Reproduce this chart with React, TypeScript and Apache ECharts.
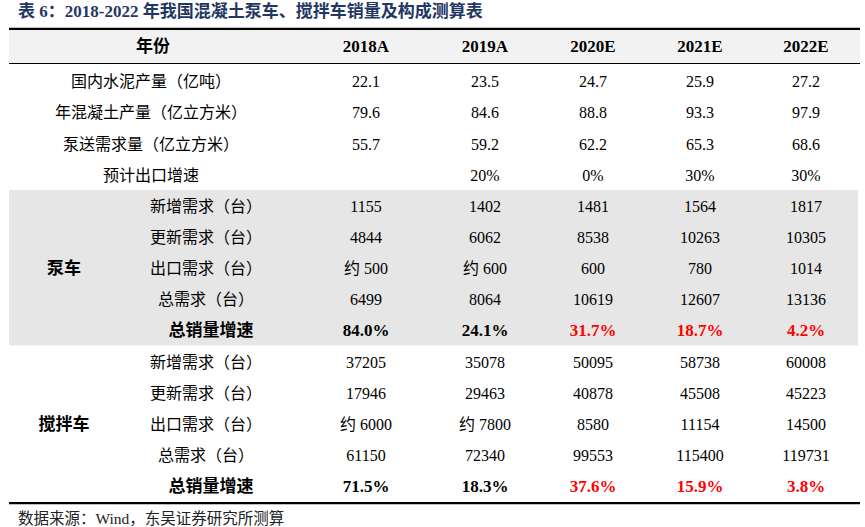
import React, { useEffect, useRef } from 'react';
import * as echarts from 'echarts';

// ---------------- data ----------------
const years = ['2018A', '2019A', '2020E', '2021E', '2022E'];
const cementOutput = [22.1, 23.5, 24.7, 25.9, 27.2];
const concreteOutput = [79.6, 84.6, 88.8, 93.3, 97.9];
const pumpingDemand = [55.7, 59.2, 62.2, 65.3, 68.6];
const exportGrowth = ['', '20%', '0%', '30%', '30%'];

const pumpNew = [1155, 1402, 1481, 1564, 1817];
const pumpRenew = [4844, 6062, 8538, 10263, 10305];
const pumpExport = ['约 500', '约 600', '600', '780', '1014'];
const pumpTotal = [6499, 8064, 10619, 12607, 13136];
const pumpGrowth = ['84.0%', '24.1%', '31.7%', '18.7%', '4.2%'];

const mixerNew = [37205, 35078, 50095, 58738, 60008];
const mixerRenew = [17946, 29463, 40878, 45508, 45223];
const mixerExport = ['约 6000', '约 7800', '8580', '11154', '14500'];
const mixerTotal = [61150, 72340, 99553, 115400, 119731];
const mixerGrowth = ['71.5%', '18.3%', '37.6%', '15.9%', '3.8%'];

const topLabels = ['国内水泥产量（亿吨）', '年混凝土产量（亿立方米）', '泵送需求量（亿立方米）', '预计出口增速'];
const subLabels = ['新增需求（台）', '更新需求（台）', '出口需求（台）', '总需求（台）', '总销量增速'];
const groupLabels = ['泵车', '搅拌车'];
const headerLabel = '年份';
const titleText = '表 6：2018-2022 年我国混凝土泵车、搅拌车销量及构成测算表';
const sourceText = '数据来源：Wind，东吴证券研究所测算';

// ---------------- layout ----------------
const W = 865;
const H = 527;
const FONT = "'Liberation Serif', 'Noto Sans CJK SC', serif";
const COL_GROUP = 64;
const COL_SUB = 206;
const COL_WIDE = 151;
const COL_HEADER_LABEL = 153;
const COL_YEARS = [366, 485, 593, 700, 806];
const ROW0 = 81.7;
const PITCH = 31.15;
const Y_MIN = -ROW0 / PITCH;
const Y_MAX = Y_MIN + H / PITCH;
const HEADER_ROW = -1.146;
const TABLE_L = 9;
const TABLE_R = 860;
const GRAY_R = 858;

type Cell = { x: number; row: number; text: string; bold?: boolean; color?: string };

function buildCells(): Cell[] {
  const cells: Cell[] = [];
  cells.push({ x: COL_HEADER_LABEL, row: HEADER_ROW, text: headerLabel, bold: true });
  years.forEach((y, i) => cells.push({ x: COL_YEARS[i], row: HEADER_ROW, text: y, bold: true }));
  const topData: (number | string)[][] = [cementOutput, concreteOutput, pumpingDemand, exportGrowth];
  topData.forEach((arr, r) => {
    cells.push({ x: COL_WIDE, row: r, text: topLabels[r] });
    arr.forEach((v, i) => {
      const t = String(v);
      if (t !== '') cells.push({ x: COL_YEARS[i], row: r, text: t });
    });
  });
  const groups: (number | string)[][][] = [
    [pumpNew, pumpRenew, pumpExport, pumpTotal, pumpGrowth],
    [mixerNew, mixerRenew, mixerExport, mixerTotal, mixerGrowth],
  ];
  groups.forEach((g, gi) => {
    const base = 4 + gi * 5;
    cells.push({ x: COL_GROUP, row: base + 2, text: groupLabels[gi], bold: true });
    g.forEach((arr, k) => {
      const isGrowth = k === 4;
      cells.push({ x: isGrowth ? COL_SUB + 5 : COL_SUB, row: base + k, text: subLabels[k], bold: isGrowth });
      arr.forEach((v, i) => {
        cells.push({
          x: COL_YEARS[i],
          row: base + k,
          text: String(v),
          bold: isGrowth,
          color: isGrowth && i >= 2 ? '#ff0000' : '#000000',
        });
      });
    });
  });
  return cells;
}

type Band = { x0: number; x1: number; r0: number; r1: number; color: string };
const bands: Band[] = [
  { x0: TABLE_L, x1: TABLE_R, r0: -1.66, r1: -0.585, color: '#f2f2f2' },
  { x0: TABLE_L, x1: GRAY_R, r0: 3.48, r1: 8.47, color: '#e6e6e6' },
  { x0: TABLE_L, x1: TABLE_R, r0: -1.735, r1: -1.66, color: '#000000' },
  { x0: TABLE_L, x1: TABLE_R, r0: -0.6, r1: -0.568, color: '#000000' },
  { x0: TABLE_L, x1: TABLE_R, r0: 13.49, r1: 13.565, color: '#000000' },
];

export default function App() {
  const ref = useRef<HTMLDivElement>(null);
  useEffect(() => {
    if (!ref.current) return;
    const chart = echarts.init(ref.current, undefined, { renderer: 'svg' });
    const cells = buildCells();
    chart.setOption({
      animation: false,
      backgroundColor: '#ffffff',
      title: {
        text: titleText,
        left: 18,
        top: 3,
        padding: 0,
        textStyle: { fontSize: 17, fontWeight: 'bold', color: '#1f3864', fontFamily: FONT },
      },
      graphic: [
        {
          type: 'text',
          x: 18,
          y: 518,
          style: {
            text: sourceText,
            fontSize: 15.5,
            fill: '#222222',
            fontFamily: FONT,
            align: 'left',
            verticalAlign: 'middle',
          },
        },
      ],
      grid: { left: 0, right: 0, top: 0, bottom: 0 },
      xAxis: { type: 'value', min: 0, max: W, show: false },
      yAxis: { type: 'value', min: Y_MIN, max: Y_MAX, inverse: true, show: false },
      series: [
        {
          type: 'custom',
          silent: true,
          clip: false,
          z: 1,
          data: bands.map((b) => [b.x0, b.r0]),
          renderItem: (params: any, api: any) => {
            const b = bands[params.dataIndex];
            const p0 = api.coord([b.x0, b.r0]);
            const p1 = api.coord([b.x1, b.r1]);
            return {
              type: 'rect',
              shape: { x: p0[0], y: p0[1], width: p1[0] - p0[0], height: p1[1] - p0[1] },
              style: { fill: b.color },
            };
          },
        },
        {
          type: 'custom',
          silent: true,
          clip: false,
          z: 2,
          data: cells.map((c) => [c.x, c.row]),
          renderItem: (params: any, api: any) => {
            const c = cells[params.dataIndex];
            const p = api.coord([api.value(0), api.value(1)]);
            return {
              type: 'text',
              x: p[0],
              y: p[1],
              style: {
                text: c.text,
                fill: c.color || '#000000',
                fontSize: c.bold ? 17 : 16,
                fontWeight: c.bold ? 'bold' : 'normal',
                fontFamily: FONT,
                align: 'center',
                verticalAlign: 'middle',
              },
            };
          },
        },
      ],
    });
    return () => chart.dispose();
  }, []);
  return <div ref={ref} style={{ position: 'fixed', left: 0, top: 0, width: W, height: H }} />;
}
